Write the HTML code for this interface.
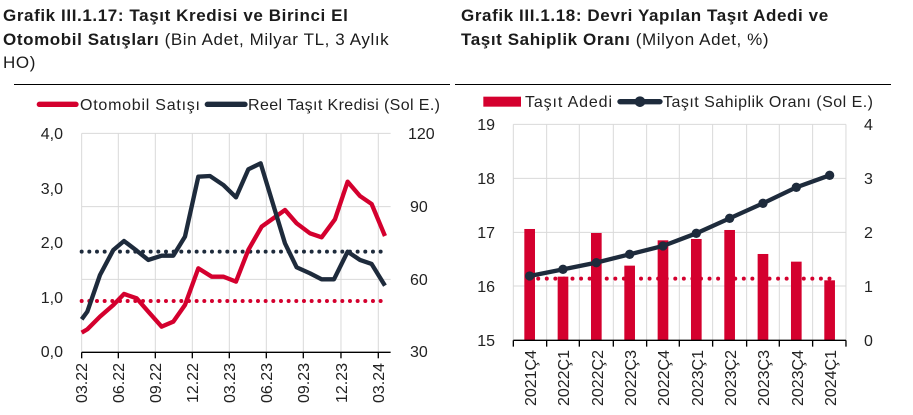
<!DOCTYPE html>
<html><head><meta charset="utf-8"><style>
body{margin:0;background:#fff;width:913px;height:415px;overflow:hidden;font-family:"Liberation Sans",sans-serif}
.t{position:absolute;font-size:17px;line-height:23.5px;color:#1b1b1b;white-space:nowrap;letter-spacing:0.6px}
b{font-weight:bold}
</style></head><body>
<div class="t" style="left:3px;top:4px"><b>Grafik III.1.17: Taşıt Kredisi ve Birinci El</b><br><b>Otomobil Satışları</b> (Bin Adet, Milyar TL, 3 Aylık<br>HO)</div>
<div class="t" style="left:461px;top:4px"><b>Grafik III.1.18: Devri Yapılan Taşıt Adedi ve</b><br><b>Taşıt Sahiplik Oranı</b> (Milyon Adet, %)</div>
<svg width="913" height="415" style="position:absolute;left:0;top:0" font-family="Liberation Sans, sans-serif">
<line x1="14" y1="84.5" x2="450" y2="84.5" stroke="#000" stroke-width="1"/>
<line x1="455" y1="84.5" x2="891" y2="84.5" stroke="#000" stroke-width="1"/>
<g transform="translate(0,80) scale(0.3333)">
 <g stroke="#d9d9d9" stroke-width="3">
  <line x1="245" y1="160" x2="1172" y2="160"/><line x1="245" y1="380" x2="1172" y2="380"/><line x1="245" y1="598" x2="1172" y2="598"/>
  <line x1="245" y1="160" x2="245" y2="815"/><line x1="355" y1="160" x2="355" y2="815"/><line x1="466" y1="160" x2="466" y2="815"/><line x1="577" y1="160" x2="577" y2="815"/><line x1="688" y1="160" x2="688" y2="815"/><line x1="799" y1="160" x2="799" y2="815"/><line x1="910" y1="160" x2="910" y2="815"/><line x1="1023" y1="160" x2="1023" y2="815"/><line x1="1135" y1="160" x2="1135" y2="815"/>
 </g>
 <line x1="245" y1="817" x2="1172" y2="817" stroke="#000" stroke-width="4"/>
 <g stroke="#000" stroke-width="4"><line x1="245" y1="817" x2="245" y2="835"/><line x1="355" y1="817" x2="355" y2="835"/><line x1="466" y1="817" x2="466" y2="835"/><line x1="577" y1="817" x2="577" y2="835"/><line x1="688" y1="817" x2="688" y2="835"/><line x1="799" y1="817" x2="799" y2="835"/><line x1="910" y1="817" x2="910" y2="835"/><line x1="1023" y1="817" x2="1023" y2="835"/><line x1="1135" y1="817" x2="1135" y2="835"/></g>
 <line x1="245" y1="515" x2="1155" y2="515" stroke="#1e2b3c" stroke-width="12" stroke-dasharray="0 23" stroke-linecap="round"/>
 <line x1="245" y1="663" x2="1155" y2="663" stroke="#d4002e" stroke-width="12" stroke-dasharray="0 23" stroke-linecap="round"/>
 <polyline fill="none" stroke="#d4002e" stroke-width="13" stroke-linejoin="round" points="245,758 262,748 300,710 340,675 372,642 410,655 445,695 485,740 520,725 555,675 595,565 635,590 670,590 708,605 745,510 785,440 820,415 855,390 890,430 930,460 965,472 1005,418 1043,305 1080,348 1115,372 1155,468"/>
 <polyline fill="none" stroke="#1e2b3c" stroke-width="13" stroke-linejoin="round" points="245,718 262,695 300,585 340,510 372,483 410,512 445,540 485,527 520,527 555,470 595,290 630,288 670,315 708,352 745,268 782,250 820,375 855,490 890,562 930,580 965,598 1002,598 1043,515 1080,540 1115,552 1155,617"/>
 <line x1="118" y1="73" x2="228" y2="73" stroke="#d4002e" stroke-width="16" stroke-linecap="round"/>
 <line x1="622" y1="73" x2="735" y2="73" stroke="#1e2b3c" stroke-width="16" stroke-linecap="round"/>
</g>
<g font-size="16" fill="#222">
 <text x="80" y="110" textLength="120">Otomobil Satışı</text>
 <text x="248" y="110" textLength="192">Reel Taşıt Kredisi (Sol E.)</text>
 <g text-anchor="end"><text x="63" y="139">4,0</text><text x="63" y="194">3,0</text><text x="63" y="248">2,0</text><text x="63" y="303">1,0</text><text x="63" y="357">0,0</text></g>
 <text x="408" y="139">120</text><text x="410" y="212">90</text><text x="410" y="285">60</text><text x="410" y="357">30</text>
 <g text-anchor="end">
  <text transform="translate(87,363) rotate(-90)">03.22</text><text transform="translate(124,363) rotate(-90)">06.22</text><text transform="translate(161,363) rotate(-90)">09.22</text><text transform="translate(198,363) rotate(-90)">12.22</text><text transform="translate(235,363) rotate(-90)">03.23</text><text transform="translate(272,363) rotate(-90)">06.23</text><text transform="translate(309,363) rotate(-90)">09.23</text><text transform="translate(347,363) rotate(-90)">12.23</text><text transform="translate(384,363) rotate(-90)">03.24</text>
 </g>
</g>
<g transform="translate(455,80) scale(0.3333)">
 <g stroke="#d9d9d9" stroke-width="3">
  <line x1="175" y1="133" x2="1173" y2="133"/><line x1="175" y1="295" x2="1173" y2="295"/><line x1="175" y1="457" x2="1173" y2="457"/><line x1="175" y1="618" x2="1173" y2="618"/>
  <line x1="175" y1="133" x2="175" y2="780"/><line x1="275" y1="133" x2="275" y2="780"/><line x1="373" y1="133" x2="373" y2="780"/><line x1="475" y1="133" x2="475" y2="780"/><line x1="575" y1="133" x2="575" y2="780"/><line x1="673" y1="133" x2="673" y2="780"/><line x1="773" y1="133" x2="773" y2="780"/><line x1="875" y1="133" x2="875" y2="780"/><line x1="973" y1="133" x2="973" y2="780"/><line x1="1073" y1="133" x2="1073" y2="780"/><line x1="1173" y1="133" x2="1173" y2="780"/>
 </g>
 <g fill="#d4002e">
  <rect x="208" y="447" width="32" height="333"/><rect x="308" y="590" width="32" height="190"/><rect x="408" y="459" width="32" height="321"/><rect x="508" y="557" width="32" height="223"/><rect x="608" y="481" width="32" height="299"/><rect x="708" y="477" width="32" height="303"/><rect x="808" y="450" width="32" height="330"/><rect x="908" y="522" width="32" height="258"/><rect x="1008" y="545" width="32" height="235"/><rect x="1108" y="601" width="32" height="179"/>
 </g>
 <line x1="175" y1="781" x2="1173" y2="781" stroke="#000" stroke-width="4"/>
 <g stroke="#000" stroke-width="4"><line x1="175" y1="781" x2="175" y2="800"/><line x1="275" y1="781" x2="275" y2="800"/><line x1="373" y1="781" x2="373" y2="800"/><line x1="475" y1="781" x2="475" y2="800"/><line x1="575" y1="781" x2="575" y2="800"/><line x1="673" y1="781" x2="673" y2="800"/><line x1="773" y1="781" x2="773" y2="800"/><line x1="875" y1="781" x2="875" y2="800"/><line x1="973" y1="781" x2="973" y2="800"/><line x1="1073" y1="781" x2="1073" y2="800"/><line x1="1173" y1="781" x2="1173" y2="800"/></g>
 <line x1="224" y1="596" x2="1124" y2="596" stroke="#d4002e" stroke-width="12" stroke-dasharray="0 25.7" stroke-linecap="round"/>
 <polyline fill="none" stroke="#1e2b3c" stroke-width="13" points="224,588 324,568 424,548 524,523 624,498 724,460 824,415 924,370 1024,322 1124,286"/>
 <g fill="#1e2b3c"><circle cx="224" cy="588" r="14"/><circle cx="324" cy="568" r="14"/><circle cx="424" cy="548" r="14"/><circle cx="524" cy="523" r="14"/><circle cx="624" cy="498" r="14"/><circle cx="724" cy="460" r="14"/><circle cx="824" cy="415" r="14"/><circle cx="924" cy="370" r="14"/><circle cx="1024" cy="322" r="14"/><circle cx="1124" cy="286" r="14"/></g>
 <rect x="85" y="50" width="113" height="30" fill="#d4002e"/>
 <line x1="495" y1="65" x2="615" y2="65" stroke="#1e2b3c" stroke-width="16" stroke-linecap="round"/>
 <circle cx="555" cy="65" r="16" fill="#1e2b3c"/>
</g>
<g font-size="16" fill="#222">
 <text x="525" y="107" textLength="87">Taşıt Adedi</text>
 <text x="663" y="107" textLength="210">Taşıt Sahiplik Oranı (Sol E.)</text>
 <g text-anchor="end"><text x="495" y="130">19</text><text x="495" y="184">18</text><text x="495" y="238">17</text><text x="495" y="292">16</text><text x="495" y="346">15</text></g>
 <text x="864" y="130">4</text><text x="864" y="184">3</text><text x="864" y="238">2</text><text x="864" y="292">1</text><text x="864" y="346">0</text>
 <g text-anchor="end">
  <text transform="translate(536,350) rotate(-90)">2021Ç4</text><text transform="translate(569,350) rotate(-90)">2022Ç1</text><text transform="translate(603,350) rotate(-90)">2022Ç2</text><text transform="translate(636,350) rotate(-90)">2022Ç3</text><text transform="translate(669,350) rotate(-90)">2022Ç4</text><text transform="translate(703,350) rotate(-90)">2023Ç1</text><text transform="translate(736,350) rotate(-90)">2023Ç2</text><text transform="translate(769,350) rotate(-90)">2023Ç3</text><text transform="translate(803,350) rotate(-90)">2023Ç4</text><text transform="translate(836,350) rotate(-90)">2024Ç1</text>
 </g>
</g>
</svg>
</body></html>
